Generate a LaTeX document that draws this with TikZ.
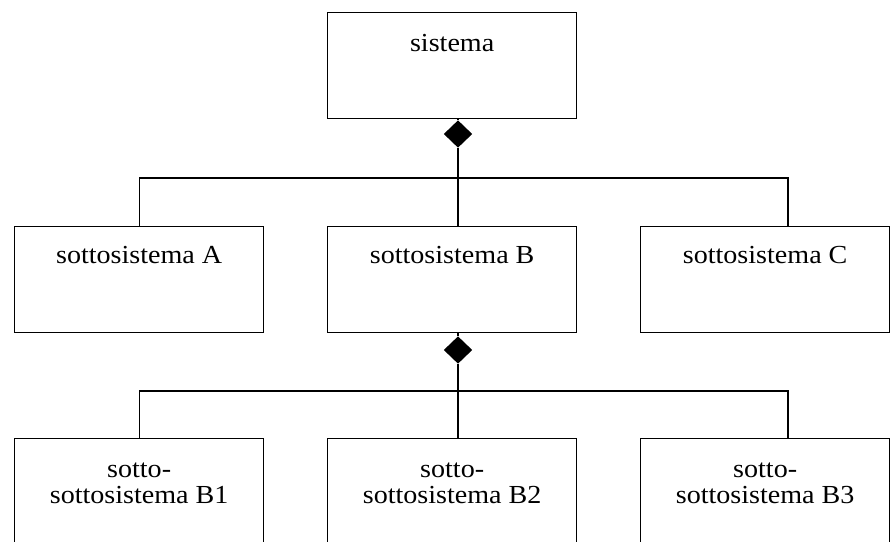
\documentclass[tikz,border=0pt]{standalone}
\usepackage{fontspec}
\setmainfont{Liberation Serif}[FakeStretch=1.08]
\usetikzlibrary{shapes.geometric}
\begin{document}
\begin{tikzpicture}[x=1pt,y=-1pt, line width=1.3pt,
  boxstyle/.style={draw, rectangle, inner sep=0pt, minimum width=249pt,
    anchor=north west, align=center,
    font=\fontsize{26}{25.7}\selectfont},
  toprow/.style={boxstyle, text height=39pt, text depth=67pt},
  midrow/.style={boxstyle, text height=37pt, text depth=69pt},
  lowrow/.style={boxstyle, text height=65pt, text depth=85pt},
  compo/.style={diamond, draw, fill=black, inner sep=0pt, aspect=1,
    minimum width=27pt, minimum height=26pt}]
\clip (0,0) rectangle (890,541);
\fill[white] (0,0) rectangle (890,541);

% whole system
\node[toprow] (S) at (327,12) {sistema};
\node[compo] (D1) at (458,134) {};

% first-level subsystems
\node[midrow] (A) at (14,226) {sottosistema A};
\node[midrow] (B) at (327,226) {sottosistema B};
\node[midrow] (C) at (640,226) {sottosistema C};
\node[compo] (D2) at (458,350) {};

% second-level subsystems of B
\node[lowrow] (B1) at (14,438) {sotto-\\sottosistema B1};
\node[lowrow] (B2) at (327,438) {sotto-\\sottosistema B2};
\node[lowrow] (B3) at (640,438) {sotto-\\sottosistema B3};

% junction points of the tree connectors
\coordinate (j1) at (458,178);
\coordinate (cC) at (788,226);
\coordinate (j2) at (458,391);
\coordinate (cB3) at (788,438);

% composition: sistema -> A, B, C
\draw (S.south -| D1) -- (D1.north);
\draw (D1.south) -- (B.north -| D1.south);
\draw (A.north) |- (j1) -| (cC);

% composition: B -> B1, B2, B3
\draw (B.south -| D2) -- (D2.north);
\draw (D2.south) -- (B2.north -| D2.south);
\draw (B1.north) |- (j2) -| (cB3);
\end{tikzpicture}
\end{document}
